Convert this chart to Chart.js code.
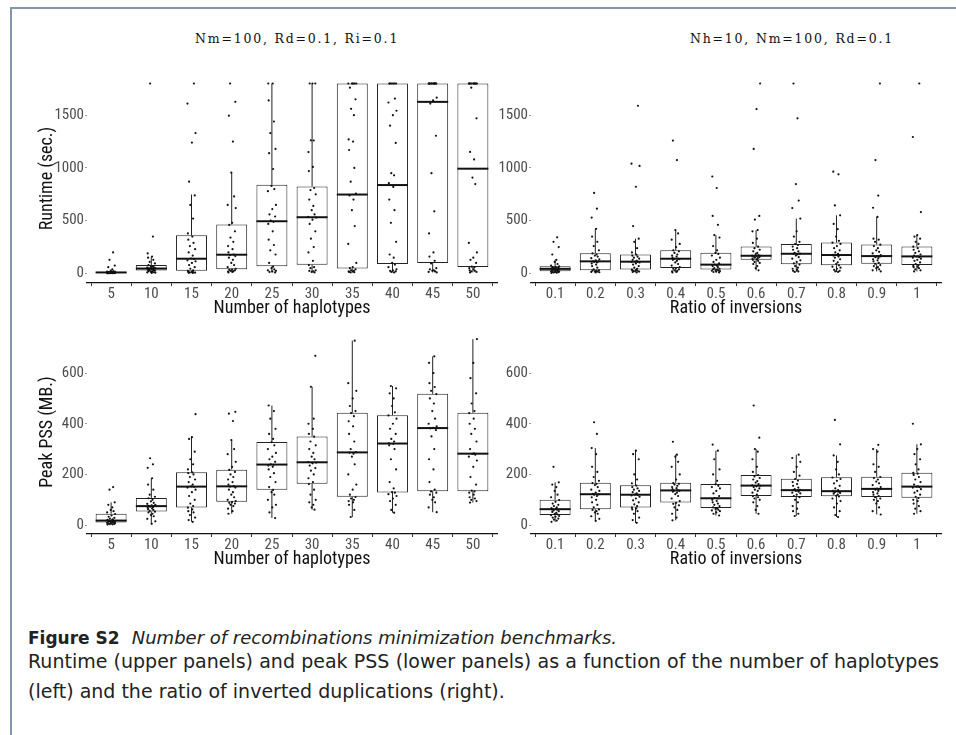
<!DOCTYPE html>
<html lang="en">
<head>
  <meta charset="UTF-8">
  <title>Figure S2</title>
  <script src="https://cdn.jsdelivr.net/npm/chart.js"></script>
  <style>
    body {
      margin: 0;
      width: 956px;
      height: 735px;
      background: #fff;
      position: relative;
      overflow: hidden;
    }
    .frame {
      position: absolute;
      left: 10px; top: 7px; right: 0; bottom: 0;
      border-top: 2px solid #8197b0;
      border-left: 2px solid #8197b0;
    }
    canvas { position: absolute; }
    .ptitle {
      position: absolute;
      font-family: "DejaVu Serif", serif;
      font-size: 12.5px;
      letter-spacing: 1.8px;
      color: #111;
      white-space: nowrap;
    }
    .cap {
      position: absolute;
      left: 28px;
      font-family: "DejaVu Sans", sans-serif;
      font-size: 19px;
      line-height: 19px;
      color: #222;
      white-space: nowrap;
    }
    .cap b { font-size: 17px; }
    .cap i { font-size: 18px; }
  </style>
</head>
<body>
  <div class="frame"></div>

  <div class="ptitle" style="left:195px; top:31px;">Nm=100, Rd=0.1, Ri=0.1</div>
  <div class="ptitle" style="left:690px; top:31px;">Nh=10, Nm=100, Rd=0.1</div>

  <canvas id="runH" width="485" height="256" style="left:20px; top:64px;"></canvas>
  <canvas id="runR" width="461" height="256" style="left:488px; top:64px;"></canvas>
  <canvas id="pssH" width="485" height="251" style="left:20px; top:320px;"></canvas>
  <canvas id="pssR" width="461" height="251" style="left:488px; top:320px;"></canvas>

  <div class="cap" style="top:628px;"><b>Figure S2</b>&nbsp; <i>Number of recombinations minimization benchmarks.</i></div>
  <div class="cap" style="top:652px; width:911px; text-align:justify; text-align-last:justify;">Runtime (upper panels) and peak PSS (lower panels) as a function of the number of haplotypes</div>
  <div class="cap" style="top:682px;">(left) and the ratio of inverted duplications (right).</div>

  <script>
    // categories
    const haplotypes = ['5', '10', '15', '20', '25', '30', '35', '40', '45', '50'];
    const ratios = ['0.1', '0.2', '0.3', '0.4', '0.5', '0.6', '0.7', '0.8', '0.9', '1'];

    // tick labels
    const runtimeTicks = [0, 500, 1000, 1500];
    const pssTicks = [0, 200, 400, 600];

    // runtime vs number of haplotypes
    const runH_q1 = [5, 28, 25, 40, 68, 84, 47, 90, 100, 62];
    const runH_med = [10, 47, 140, 178, 495, 533, 748, 838, 1626, 993];
    const runH_q3 = [15, 81, 362, 464, 841, 825, 1800, 1800, 1800, 1800];
    const runH_lo = [2, 5, 5, 10, 10, 10, 10, 10, 10, 10];
    const runH_hi = [30, 160, 748, 956, 1800, 1800, 1800, 1800, 1800, 1800];
    const runH_pts = [
      [2, 3, 3, 4, 4, 5, 5, 5, 6, 7, 7, 8, 8, 9, 9, 10, 10, 11, 11, 12, 12, 13, 14, 15, 18, 22, 28, 40, 60, 75, 130, 200],
      [5, 8, 10, 12, 15, 18, 22, 27, 30, 32, 35, 38, 40, 42, 44, 46, 48, 50, 52, 55, 60, 65, 70, 80, 95, 110, 130, 150, 160, 190, 350, 1800],
      [5, 6, 8, 10, 12, 15, 18, 24, 30, 45, 60, 80, 100, 115, 125, 138, 142, 170, 200, 230, 260, 290, 320, 350, 380, 520, 650, 740, 870, 1240, 1330, 1610, 1800],
      [10, 15, 18, 22, 25, 30, 35, 38, 45, 60, 80, 100, 130, 150, 165, 175, 180, 200, 230, 260, 300, 340, 400, 460, 480, 620, 650, 730, 956, 1250, 1495, 1626, 1800],
      [10, 15, 20, 25, 30, 40, 50, 65, 100, 180, 220, 270, 320, 400, 470, 490, 500, 540, 560, 610, 650, 780, 800, 830, 990, 1140, 1180, 1330, 1440, 1640, 1800, 1800],
      [10, 15, 20, 25, 30, 50, 60, 80, 120, 200, 250, 330, 400, 470, 510, 530, 536, 560, 600, 640, 700, 750, 790, 810, 970, 1010, 1150, 1260, 1262, 1800, 1800, 1800],
      [10, 12, 15, 18, 20, 25, 30, 40, 50, 60, 100, 280, 450, 600, 700, 740, 756, 870, 1000, 1170, 1250, 1270, 1500, 1560, 1650, 1760, 1800, 1800, 1800, 1800, 1800, 1800],
      [10, 15, 20, 25, 30, 40, 60, 85, 100, 150, 180, 300, 480, 600, 700, 820, 856, 930, 950, 1237, 1400, 1500, 1542, 1620, 1657, 1800, 1800, 1800, 1800, 1800, 1800, 1800],
      [10, 15, 20, 25, 30, 40, 50, 95, 120, 160, 200, 380, 589, 950, 1305, 1610, 1640, 1666, 1800, 1800, 1800, 1800, 1800, 1800, 1800, 1800, 1800, 1800, 1800, 1800, 1800, 1800],
      [10, 15, 20, 25, 30, 40, 50, 60, 65, 100, 130, 150, 200, 290, 847, 909, 1081, 1152, 1470, 1760, 1800, 1800, 1800, 1800, 1800, 1800, 1800, 1800, 1800, 1800, 1800, 1800]
    ];

    // runtime vs ratio of inversions
    const runR_q1 = [21, 31, 37, 53, 37, 131, 87, 78, 93, 81];
    const runR_med = [44, 115, 112, 140, 84, 168, 187, 175, 165, 162];
    const runR_q3 = [68, 193, 180, 221, 196, 255, 280, 293, 274, 255];
    const runR_lo = [5, 10, 10, 10, 10, 30, 15, 15, 20, 20];
    const runR_hi = [130, 423, 330, 411, 364, 411, 520, 551, 536, 364];
    const runR_pts = [
      [5, 8, 10, 12, 14, 16, 18, 20, 24, 28, 30, 33, 36, 39, 42, 44, 45, 48, 50, 53, 56, 60, 63, 67, 75, 90, 110, 130, 180, 250, 300, 343],
      [10, 12, 15, 18, 20, 24, 28, 30, 40, 55, 70, 85, 95, 105, 110, 114, 116, 125, 135, 145, 160, 170, 180, 190, 220, 260, 300, 350, 423, 530, 614, 763],
      [10, 14, 18, 22, 26, 30, 34, 36, 45, 55, 70, 85, 95, 105, 110, 111, 113, 120, 130, 140, 150, 160, 170, 178, 200, 240, 300, 330, 449, 822, 1019, 1040, 1589],
      [10, 15, 20, 25, 30, 40, 45, 52, 60, 75, 90, 105, 120, 130, 135, 139, 141, 150, 160, 170, 180, 195, 210, 220, 250, 280, 320, 380, 411, 1075, 1259],
      [10, 14, 18, 22, 26, 30, 33, 36, 40, 45, 50, 60, 70, 75, 80, 83, 85, 95, 110, 130, 150, 170, 185, 195, 220, 260, 340, 364, 461, 545, 810, 919],
      [30, 50, 70, 90, 100, 110, 120, 130, 135, 140, 145, 150, 155, 160, 165, 167, 169, 175, 185, 195, 210, 225, 240, 254, 290, 330, 400, 411, 511, 545, 1180, 1558, 1800],
      [15, 20, 25, 35, 45, 55, 70, 85, 95, 110, 125, 140, 155, 170, 180, 186, 188, 195, 210, 225, 240, 255, 270, 279, 300, 350, 400, 520, 620, 691, 847, 1470, 1800],
      [15, 20, 25, 35, 45, 55, 65, 77, 90, 105, 120, 135, 150, 160, 170, 174, 176, 185, 200, 220, 240, 260, 280, 292, 310, 350, 420, 470, 551, 645, 940, 965],
      [20, 30, 40, 50, 60, 70, 80, 92, 100, 115, 125, 135, 145, 155, 160, 164, 166, 175, 190, 205, 220, 240, 260, 273, 300, 320, 330, 536, 623, 738, 1075, 1800],
      [20, 30, 40, 50, 60, 65, 72, 80, 90, 105, 120, 130, 140, 150, 155, 161, 163, 170, 180, 195, 210, 225, 240, 254, 280, 300, 330, 350, 364, 582, 1293, 1800]
    ];

    // peak PSS vs number of haplotypes
    const pssH_q1 = [10, 54, 70, 92, 140, 163, 112, 129, 134, 134];
    const pssH_med = [18, 75, 152, 153, 239, 248, 287, 322, 383, 282];
    const pssH_q3 = [45, 107, 209, 219, 328, 350, 443, 434, 518, 443];
    const pssH_lo = [2, 5, 13, 45, 28, 61, 32, 49, 51, 89];
    const pssH_hi = [90, 185, 347, 336, 472, 546, 728, 549, 666, 734];
    const pssH_pts = [
      [2, 3, 4, 5, 6, 7, 8, 9, 11, 12, 13, 14, 15, 16, 17, 18, 19, 21, 23, 26, 29, 33, 38, 44, 50, 55, 60, 70, 80, 90, 140, 150],
      [5, 15, 25, 35, 40, 45, 50, 53, 56, 60, 63, 66, 69, 71, 73, 75, 76, 78, 80, 84, 88, 94, 100, 106, 112, 120, 140, 160, 185, 226, 240, 264],
      [13, 20, 30, 40, 50, 55, 62, 69, 75, 85, 100, 115, 130, 140, 148, 151, 153, 160, 170, 180, 190, 200, 205, 208, 220, 240, 260, 290, 340, 347, 438],
      [45, 55, 65, 75, 80, 85, 88, 91, 95, 100, 110, 120, 130, 140, 148, 152, 154, 160, 170, 180, 190, 200, 210, 218, 230, 250, 280, 300, 336, 411, 440, 447],
      [28, 50, 70, 80, 100, 120, 130, 139, 150, 170, 190, 205, 220, 230, 235, 238, 240, 250, 260, 270, 285, 300, 315, 327, 340, 360, 380, 420, 450, 472],
      [61, 70, 80, 90, 100, 120, 140, 162, 170, 185, 200, 215, 225, 235, 244, 247, 249, 260, 270, 285, 300, 315, 330, 349, 360, 380, 400, 420, 546, 668],
      [32, 60, 80, 90, 95, 100, 105, 111, 120, 140, 160, 200, 240, 270, 282, 286, 288, 300, 330, 360, 390, 410, 430, 442, 450, 470, 500, 530, 560, 728],
      [49, 60, 80, 95, 105, 115, 122, 128, 130, 145, 170, 220, 260, 300, 315, 321, 323, 330, 340, 360, 380, 400, 420, 433, 445, 470, 500, 520, 540, 549],
      [51, 70, 90, 100, 110, 120, 128, 133, 140, 170, 220, 260, 300, 350, 375, 382, 384, 390, 400, 420, 450, 480, 500, 517, 530, 545, 560, 600, 640, 666],
      [89, 95, 100, 105, 110, 120, 128, 133, 136, 160, 190, 230, 255, 270, 278, 281, 283, 300, 330, 360, 380, 400, 420, 442, 450, 480, 520, 580, 640, 734]
    ];

    // peak PSS vs ratio of inversions
    const pssR_q1 = [40, 63, 70, 89, 68, 115, 111, 114, 111, 108];
    const pssR_med = [63, 122, 120, 137, 106, 156, 138, 134, 143, 152];
    const pssR_q3 = [100, 167, 157, 167, 162, 198, 183, 189, 191, 207];
    const pssR_lo = [13, 17, 9, 19, 38, 45, 36, 32, 42, 45];
    const pssR_hi = [169, 304, 294, 278, 294, 300, 278, 275, 300, 319];
    const pssR_pts = [
      [13, 18, 22, 26, 30, 33, 36, 39, 42, 45, 48, 52, 55, 58, 61, 62, 64, 67, 70, 75, 80, 85, 92, 99, 110, 120, 135, 150, 160, 169, 230],
      [17, 25, 35, 45, 50, 55, 60, 62, 70, 80, 90, 100, 110, 115, 120, 121, 123, 128, 135, 140, 150, 158, 163, 166, 175, 190, 210, 230, 280, 304, 360, 406],
      [9, 20, 30, 45, 55, 62, 66, 69, 75, 82, 90, 98, 105, 112, 117, 119, 121, 125, 130, 135, 140, 145, 150, 156, 165, 180, 200, 260, 280, 294],
      [19, 30, 45, 60, 70, 78, 84, 88, 95, 105, 115, 122, 128, 132, 135, 136, 138, 142, 146, 150, 155, 160, 163, 166, 180, 200, 230, 250, 270, 278, 329],
      [38, 45, 50, 55, 58, 61, 64, 67, 70, 75, 80, 85, 90, 95, 100, 105, 107, 115, 125, 135, 145, 150, 155, 161, 175, 200, 220, 260, 294, 318],
      [45, 60, 75, 90, 100, 105, 110, 114, 120, 128, 135, 140, 145, 150, 153, 155, 157, 162, 168, 174, 180, 186, 192, 197, 210, 230, 260, 290, 300, 345, 472],
      [36, 45, 55, 65, 75, 90, 100, 110, 115, 120, 125, 128, 132, 135, 137, 138, 139, 142, 148, 155, 162, 170, 176, 182, 195, 210, 230, 250, 265, 278],
      [32, 40, 55, 70, 85, 95, 105, 113, 116, 120, 124, 127, 130, 132, 133, 134, 135, 138, 145, 155, 165, 175, 182, 188, 200, 220, 250, 275, 319, 415],
      [42, 55, 70, 85, 95, 100, 105, 110, 115, 120, 125, 130, 135, 140, 142, 143, 144, 150, 158, 165, 172, 180, 186, 190, 210, 230, 240, 290, 300, 317],
      [45, 55, 65, 75, 85, 95, 100, 107, 112, 120, 128, 135, 142, 148, 150, 152, 153, 160, 170, 180, 190, 198, 203, 206, 220, 240, 260, 280, 300, 319, 400]
    ];

    // horizontal jitter of the dots (category units)
    const JITTER = [-0.09, 0.04, -0.03, 0.08, -0.06, 0.01, 0.1, -0.1, 0.06, -0.01, 0.03, -0.07, 0.09, -0.04, 0.05, -0.08, 0.02];
    const BOX_WIDTH = 0.77;
    const NARROW = '"Liberation Sans Narrow", "Arial Narrow", "Roboto Condensed", sans-serif';

    function boxChart(id, cats, q1, med, q3, lo, hi, pts, yTicks, yMin, yMax, xTitle, yTitle, yWidth, padTop) {
      const xs = cats.map((c, i) => i + 1);

      const dots = [];
      pts.forEach((list, i) => {
        list.forEach((v, j) => dots.push({ x: i + 1 + JITTER[(j + 5 * i) % JITTER.length], y: v }));
      });

      const whiskers = [];
      xs.forEach((x, i) => {
        whiskers.push({ x: x, y: q3[i] }, { x: x, y: hi[i] }, { x: x, y: null });
        whiskers.push({ x: x, y: lo[i] }, { x: x, y: q1[i] }, { x: x, y: null });
      });

      return new Chart(document.getElementById(id), {
        type: 'scatter',
        data: {
          datasets: [
            {
              type: 'scatter',
              data: dots,
              pointRadius: 1.1,
              pointBackgroundColor: '#111',
              pointBorderWidth: 0,
              order: 1
            },
            {
              type: 'scatter',
              data: xs.map((x, i) => ({ x: x, y: med[i] })),
              pointStyle: 'line',
              pointRadius: c => {
                const s = c.chart.scales.x;
                return (s.getPixelForValue(2) - s.getPixelForValue(1)) * BOX_WIDTH / 2;
              },
              pointBorderColor: '#111',
              pointBorderWidth: 2,
              order: 2
            },
            {
              type: 'line',
              data: whiskers,
              borderColor: '#222',
              borderWidth: 1,
              pointRadius: 0,
              spanGaps: false,
              order: 3
            },
            {
              type: 'bar',
              data: xs.map((x, i) => ({ x: x, y: [q1[i], q3[i]] })),
              backgroundColor: '#fff',
              borderColor: '#222',
              borderWidth: 1,
              borderSkipped: false,
              barPercentage: BOX_WIDTH,
              categoryPercentage: 1,
              order: 4
            }
          ]
        },
        options: {
          responsive: false,
          animation: false,
          events: [],
          layout: { padding: { top: padTop, right: 8, left: 0, bottom: 0 } },
          plugins: { legend: { display: false }, tooltip: { enabled: false } },
          scales: {
            x: {
              type: 'linear',
              min: 0.4,
              max: 10.6,
              offset: false,
              afterBuildTicks: s => { s.ticks = xs.map(v => ({ value: v })); },
              afterFit: s => { s.height = 37; },
              ticks: {
                callback: (v, i) => cats[i],
                color: '#4d4d4d',
                font: { family: NARROW, size: 15, lineHeight: 1 },
                padding: 1,
                maxRotation: 0,
                autoSkip: false
              },
              grid: { drawOnChartArea: false, tickLength: 3, color: '#333' },
              border: { display: true, color: '#111', width: 1.2 },
              title: {
                display: true,
                text: xTitle,
                color: '#111',
                font: { family: NARROW, size: 18, lineHeight: 1 },
                padding: { top: 0, bottom: 3 }
              }
            },
            y: {
              type: 'linear',
              min: yMin,
              max: yMax,
              afterBuildTicks: s => { s.ticks = yTicks.map(v => ({ value: v })); },
              afterFit: s => { s.width = yWidth; },
              ticks: {
                callback: v => String(v),
                color: '#4d4d4d',
                font: { family: NARROW, size: 15 },
                padding: 1
              },
              grid: { drawOnChartArea: false, tickLength: 2, color: '#999' },
              border: { display: false },
              title: {
                display: !!yTitle,
                text: yTitle,
                color: '#111',
                font: { family: NARROW, size: 18, lineHeight: 1 },
                padding: { top: 18, bottom: 0 }
              }
            }
          }
        }
      });
    }

    boxChart('runH', haplotypes, runH_q1, runH_med, runH_q3, runH_lo, runH_hi, runH_pts,
      runtimeTicks, -90, 1890, 'Number of haplotypes', 'Runtime (sec.)', 67, 7.5);
    boxChart('runR', ratios, runR_q1, runR_med, runR_q3, runR_lo, runR_hi, runR_pts,
      runtimeTicks, -90, 1890, 'Ratio of inversions', '', 43, 7.5);
    boxChart('pssH', haplotypes, pssH_q1, pssH_med, pssH_q3, pssH_lo, pssH_hi, pssH_pts,
      pssTicks, -35, 770, 'Number of haplotypes', 'Peak PSS (MB.)', 67, 3.9);
    boxChart('pssR', ratios, pssR_q1, pssR_med, pssR_q3, pssR_lo, pssR_hi, pssR_pts,
      pssTicks, -35, 770, 'Ratio of inversions', '', 43, 3.9);
  </script>
</body>
</html>
